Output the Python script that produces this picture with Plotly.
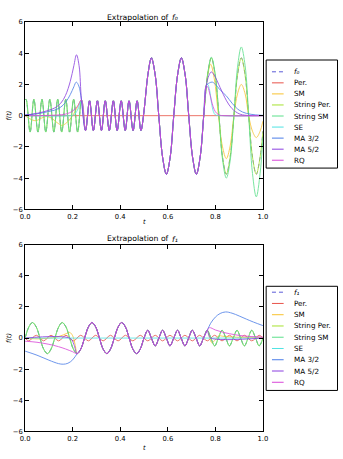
import plotly.graph_objects as go

W, H = 343, 459

def px(x):
    return x / W

def py(y):
    return 1 - y / H

names_top = ["f₀", "Per.", "SM", "String Per.", "String SM", "SE", "MA 3/2", "MA 5/2", "RQ"]
names_bot = ["f₁", "Per.", "SM", "String Per.", "String SM", "SE", "MA 3/2", "MA 5/2", "RQ"]
colors = ["#5a5ad8", "#e8534a", "#f9c22e", "#a6e22e", "#5ae08a", "#4fe3e3", "#4a7de8", "#8a3fe0", "#d946d9"]

# ---------------- f0 (top panel) ----------------
top_train_t = [0.237, 0.254, 0.271, 0.287, 0.304, 0.321, 0.337, 0.354, 0.371, 0.387, 0.404, 0.421,
               0.437, 0.454, 0.471, 0.487, 0.500, 0.508, 0.516, 0.531, 0.547, 0.562, 0.578, 0.594,
               0.610, 0.625, 0.641, 0.657, 0.673, 0.688, 0.704, 0.720, 0.736, 0.751, 0.762]
top_train_y = [1.0, -0.95, 0.95, -0.95, 0.95, -0.95, 0.95, -0.95, 0.95, -0.95, 0.95, -0.95,
               0.95, -0.95, 0.95, -0.95, 0.3, 1.5, 2.6, 3.7, 2.6, 0.0, -2.65, -3.75,
               -2.65, 0.0, 2.6, 3.7, 2.6, 0.0, -2.65, -3.75, -2.65, 0.0, 1.93]

top_str_left_t = [0.000, 0.004, 0.021, 0.037, 0.054, 0.071, 0.087, 0.104, 0.121, 0.137, 0.154, 0.171, 0.187, 0.204, 0.221]
top_str_left_y = [1.0, 1.05, -1.05, 1.05, -1.05, 1.05, -1.05, 1.05, -1.05, 1.05, -1.05, 1.05, -1.05, 1.05, -1.05]

top_strper_right_t = [0.767, 0.783, 0.799, 0.815, 0.830, 0.846, 0.862, 0.878, 0.893, 0.909, 0.925, 0.940, 0.956, 0.972, 0.988, 1.0]
top_strper_right_y = [2.6, 3.7, 2.6, 0.0, -2.65, -3.75, -2.65, 0.0, 2.6, 3.7, 2.6, 0.0, -2.65, -3.75, -2.65, -1.0]

top_strsm_right_t = [0.767, 0.783, 0.799, 0.815, 0.830, 0.846, 0.862, 0.878, 0.893, 0.909, 0.925, 0.940, 0.956, 0.972, 0.988, 1.0]
top_strsm_right_y = [2.6, 3.75, 2.7, 0.0, -2.8, -4.0, -2.9, 0.0, 3.1, 4.4, 3.2, 0.0, -3.7, -5.2, -3.7, -1.4]

top_per_t = [0.0, 1.0]
top_per_y = [0.0, 0.0]

top_sm_left_t = [0.0, 0.02, 0.045, 0.07, 0.09, 0.11, 0.135, 0.155, 0.175, 0.195, 0.215]
top_sm_left_y = [0.0, -0.2, -0.32, -0.15, -0.05, -0.15, -0.45, -0.62, -0.45, -0.1, 0.4]
top_sm_right_t = [0.770, 0.780, 0.795, 0.813, 0.830, 0.846, 0.862, 0.878, 0.893, 0.909, 0.925, 0.940, 0.956, 0.972, 0.988, 1.0]
top_sm_right_y = [2.8, 3.3, 2.4, 0.0, -2.0, -2.75, -1.95, 0.0, 1.4, 2.0, 1.4, 0.0, -1.0, -1.4, -1.0, -0.35]

top_se_left_t = [0.0, 0.19, 0.205, 0.22]
top_se_left_y = [0.0, 0.0, 0.05, 0.35]
top_se_right_t = [0.768, 0.776, 0.784, 0.792, 0.800, 0.820, 1.0]
top_se_right_y = [2.0, 1.6, 0.8, 0.25, 0.05, 0.0, 0.0]

top_ma32_left_t = [0.0, 0.05, 0.10, 0.125, 0.15, 0.17, 0.19, 0.205, 0.215, 0.226]
top_ma32_left_y = [0.05, 0.12, 0.27, 0.36, 0.55, 0.85, 1.35, 1.85, 2.15, 1.9]
top_ma32_right_t = [0.775, 0.787, 0.800, 0.820, 0.847, 0.870, 0.900, 0.930, 0.970, 1.0]
top_ma32_right_y = [2.1, 2.15, 2.0, 1.65, 1.25, 0.8, 0.35, 0.15, 0.05, 0.02]

top_ma52_left_t = [0.0, 0.05, 0.10, 0.125, 0.15, 0.17, 0.19, 0.205, 0.216, 0.227]
top_ma52_left_y = [0.03, 0.15, 0.35, 0.5, 0.8, 1.3, 2.2, 3.2, 3.9, 3.2]
top_ma52_right_t = [0.772, 0.783, 0.795, 0.820, 0.847, 0.870, 0.900, 0.930, 1.0]
top_ma52_right_y = [2.55, 2.8, 2.6, 1.8, 0.95, 0.45, 0.12, 0.02, 0.0]

top_rq_left_t = [0.0, 0.10, 0.17, 0.20, 0.22]
top_rq_left_y = [0.0, 0.02, 0.1, 0.3, 0.6]
top_rq_right_t = [0.768, 0.778, 0.790, 0.800, 0.815, 0.840, 1.0]
top_rq_right_y = [1.85, 1.3, 0.6, 0.25, 0.05, 0.0, 0.0]

# ---------------- f1 (bottom panel) ----------------
bot_train_t = [0.219, 0.234, 0.250, 0.266, 0.281, 0.297, 0.3125, 0.328, 0.344, 0.359, 0.375, 0.391,
               0.406, 0.422, 0.4375, 0.453, 0.469, 0.484, 0.500, 0.5156, 0.531, 0.547, 0.5625, 0.578,
               0.594, 0.609, 0.625, 0.641, 0.656, 0.672, 0.6875, 0.703, 0.719, 0.734, 0.750, 0.766]
bot_train_y = [-1.0, -0.71, 0.0, 0.71, 1.0, 0.71, 0.0, -0.71, -1.0, -0.71, 0.0, 0.71,
               1.0, 0.71, 0.0, -0.71, -1.0, -0.71, 0.0, 0.5, 0.0, -0.5, 0.0, 0.5,
               0.0, -0.5, 0.0, 0.5, 0.0, -0.5, 0.0, 0.5, 0.0, -0.5, 0.0, 0.5]

bot_str_left_t = [0.0, 0.0156, 0.031, 0.047, 0.0625, 0.078, 0.094, 0.109, 0.125, 0.141, 0.156, 0.172, 0.1875, 0.203]
bot_str_left_y = [0.0, 0.71, 1.0, 0.71, 0.0, -0.71, -1.0, -0.71, 0.0, 0.71, 1.0, 0.71, 0.0, -0.71]
bot_str_right_t = [0.781, 0.797, 0.8125, 0.828, 0.844, 0.859, 0.875, 0.891, 0.906, 0.922, 0.9375, 0.953, 0.969, 0.984, 1.0]
bot_str_right_y = [0.0, -0.5, 0.0, 0.5, 0.0, -0.5, 0.0, 0.5, 0.0, -0.5, 0.0, 0.5, 0.0, -0.5, 0.0]

bot_per_t = [0.0, 0.0155, 0.047, 0.078, 0.109, 0.141, 0.172, 0.203, 0.234, 0.266, 0.297, 0.328,
             0.359, 0.391, 0.422, 0.453, 0.484, 0.516, 0.547, 0.578, 0.609, 0.641, 0.672, 0.703,
             0.734, 0.766, 0.797, 0.828, 0.859, 0.891, 0.922, 0.953, 0.984, 1.0]
bot_per_y = [0.0, -0.18, 0.18, -0.18, 0.18, -0.18, 0.18, -0.18, 0.18, -0.18, 0.18, -0.18,
             0.18, -0.18, 0.18, -0.18, 0.18, -0.18, 0.18, -0.18, 0.18, -0.18, 0.18, -0.18,
             0.18, -0.18, 0.18, -0.18, 0.18, -0.18, 0.18, -0.18, 0.18, 0.0]

bot_sm_left_t = [0.0, 0.05, 0.10, 0.13, 0.16, 0.175, 0.188, 0.200, 0.210]
bot_sm_left_y = [0.0, -0.05, 0.0, 0.05, 0.2, 0.3, 0.36, 0.15, -0.4]
bot_sm_right_t = [0.775, 0.785, 0.800, 0.815, 0.830, 0.860, 0.900, 1.0]
bot_sm_right_y = [0.1, -0.3, -0.1, 0.15, 0.12, 0.08, 0.05, 0.05]

bot_se_t = [0.0, 1.0]
bot_se_y = [0.0, 0.0]

bot_ma32_left_t = [0.0, 0.05, 0.10, 0.14, 0.16, 0.18, 0.20]
bot_ma32_left_y = [-0.84, -1.1, -1.42, -1.64, -1.68, -1.62, -1.4]
bot_ma32_right_t = [0.780, 0.800, 0.820, 0.843, 0.870, 0.900, 0.930, 0.960, 1.0]
bot_ma32_right_y = [0.95, 1.35, 1.58, 1.68, 1.6, 1.42, 1.22, 1.03, 0.8]

bot_ma52_left_t = [0.0, 0.19, 0.205]
bot_ma52_left_y = [0.0, -0.02, -0.4]
bot_ma52_right_t = [0.772, 0.780, 1.0]
bot_ma52_right_y = [0.2, 0.0, 0.0]

bot_rq_left_t = [0.0, 0.05, 0.10, 0.14, 0.17, 0.20]
bot_rq_left_y = [-0.2, -0.27, -0.4, -0.55, -0.7, -0.88]
bot_rq_right_t = [0.775, 0.800, 0.830, 0.860, 0.900, 0.950, 1.0]
bot_rq_right_y = [0.67, 0.52, 0.38, 0.28, 0.17, 0.1, 0.06]

fig = go.Figure()


def add(xs, ys, color, xa, ya, dash=None):
    fig.add_trace(go.Scatter(
        x=xs, y=ys, mode="lines", xaxis=xa, yaxis=ya, showlegend=False, hoverinfo="skip",
        opacity=0.8,
        line=dict(color=color, width=1, shape="spline", smoothing=1, dash=dash)))


def seg(lt, ly, tt, ty, rt, ry):
    return lt + tt + rt, ly + ty + ry


# drawing order: f, Per., SM, String Per., String SM, SE, MA 3/2, MA 5/2, RQ
top_series = [
    seg(top_str_left_t, top_str_left_y, top_train_t, top_train_y, top_strper_right_t, top_strper_right_y),
    (top_per_t, top_per_y),
    seg(top_sm_left_t, top_sm_left_y, top_train_t, top_train_y, top_sm_right_t, top_sm_right_y),
    seg(top_str_left_t, top_str_left_y, top_train_t, top_train_y, top_strper_right_t, top_strper_right_y),
    seg(top_str_left_t, top_str_left_y, top_train_t, top_train_y, top_strsm_right_t, top_strsm_right_y),
    seg(top_se_left_t, top_se_left_y, top_train_t, top_train_y, top_se_right_t, top_se_right_y),
    seg(top_ma32_left_t, top_ma32_left_y, top_train_t, top_train_y, top_ma32_right_t, top_ma32_right_y),
    seg(top_ma52_left_t, top_ma52_left_y, top_train_t, top_train_y, top_ma52_right_t, top_ma52_right_y),
    seg(top_rq_left_t, top_rq_left_y, top_train_t, top_train_y, top_rq_right_t, top_rq_right_y),
]
bot_series = [
    seg(bot_str_left_t, bot_str_left_y, bot_train_t, bot_train_y, bot_str_right_t, bot_str_right_y),
    (bot_per_t, bot_per_y),
    seg(bot_sm_left_t, bot_sm_left_y, bot_train_t, bot_train_y, bot_sm_right_t, bot_sm_right_y),
    seg(bot_str_left_t, bot_str_left_y, bot_train_t, bot_train_y, bot_str_right_t, bot_str_right_y),
    seg(bot_str_left_t, bot_str_left_y, bot_train_t, bot_train_y, bot_str_right_t, bot_str_right_y),
    (bot_se_t, bot_se_y),
    seg(bot_ma32_left_t, bot_ma32_left_y, bot_train_t, bot_train_y, bot_ma32_right_t, bot_ma32_right_y),
    seg(bot_ma52_left_t, bot_ma52_left_y, bot_train_t, bot_train_y, bot_ma52_right_t, bot_ma52_right_y),
    seg(bot_rq_left_t, bot_rq_left_y, bot_train_t, bot_train_y, bot_rq_right_t, bot_rq_right_y),
]

for i, (xs, ys) in enumerate(top_series):
    add(xs, ys, colors[i], "x", "y", "4px,3px" if i == 0 else None)
for i, (xs, ys) in enumerate(bot_series):
    add(xs, ys, colors[i], "x2", "y2", "4px,3px" if i == 0 else None)

FONT = "DejaVu Sans"
xdom = [px(20.7), px(265.7)]
axis_common = dict(showline=True, linecolor="black", linewidth=1, mirror="ticks", ticks="inside",
                   ticklen=4, tickcolor="black", tickwidth=1, showgrid=False, zeroline=False,
                   tickfont=dict(family=FONT, size=6.8, color="black"))

fig.update_layout(
    width=W, height=H, margin=dict(l=0, r=0, t=0, b=0),
    paper_bgcolor="white", plot_bgcolor="white", showlegend=False,
    xaxis=dict(domain=xdom, range=[0, 1], dtick=0.2, tickformat=".1f", anchor="y", **axis_common),
    yaxis=dict(domain=[py(209), py(18.3)], range=[-6, 6], dtick=2, anchor="x", **axis_common),
    xaxis2=dict(domain=xdom, range=[0, 1], dtick=0.2, tickformat=".1f", anchor="y2", **axis_common),
    yaxis2=dict(domain=[py(435), py(245)], range=[-6, 6], dtick=2, anchor="x2", **axis_common),
)

ann = []
shapes = []
cx = (20.7 + 265.7) / 2


def text(s, x, y, size, xanchor="center", italic=False, angle=0, family=FONT):
    ann.append(dict(text=s, x=px(x), y=py(y), xref="paper", yref="paper", showarrow=False,
                    xanchor=xanchor, yanchor="middle", textangle=angle,
                    font=dict(family=family, size=size, color="black",
                              style="italic" if italic else "normal")))


for sym, ty in (("f₀", 13.3), ("f₁", 239.0)):
    text("Extrapolation of", 137.5, ty, 7.7, xanchor="center")
    text(sym, 175.0, ty + 0.5, 7.7, xanchor="center", italic=True)
for ly in (222.0, 452.0):
    text("t", cx, ly, 6.5, italic=True)
for ly in (113.7, 340.0):
    text("f(t)", 4.0, ly, 6.5, italic=True, angle=-90)

# legend boxes
for names, box_top, box_bot, first_y, step in ((names_top, 57.0, 167.0, 69.0, 11.25),
                                                (names_bot, 287.3, 393.3, 293.3, 11.46)):
    shapes.append(dict(type="rect", xref="paper", yref="paper", x0=px(269), x1=px(342.5),
                       y0=py(box_bot), y1=py(box_top), line=dict(color="black", width=1),
                       fillcolor="white", layer="above"))
    for i, nm in enumerate(names):
        yy = first_y + step * i
        shapes.append(dict(type="line", xref="paper", yref="paper", x0=px(275), x1=px(287),
                           y0=py(yy), y1=py(yy), layer="above",
                           line=dict(color=colors[i], width=1, dash="4px,3px" if i == 0 else "solid")))
        text(nm, 295.7, yy, 7.2, xanchor="left", italic=(i == 0))

fig.update_layout(annotations=ann, shapes=shapes)
fig.write_html("out.html")
